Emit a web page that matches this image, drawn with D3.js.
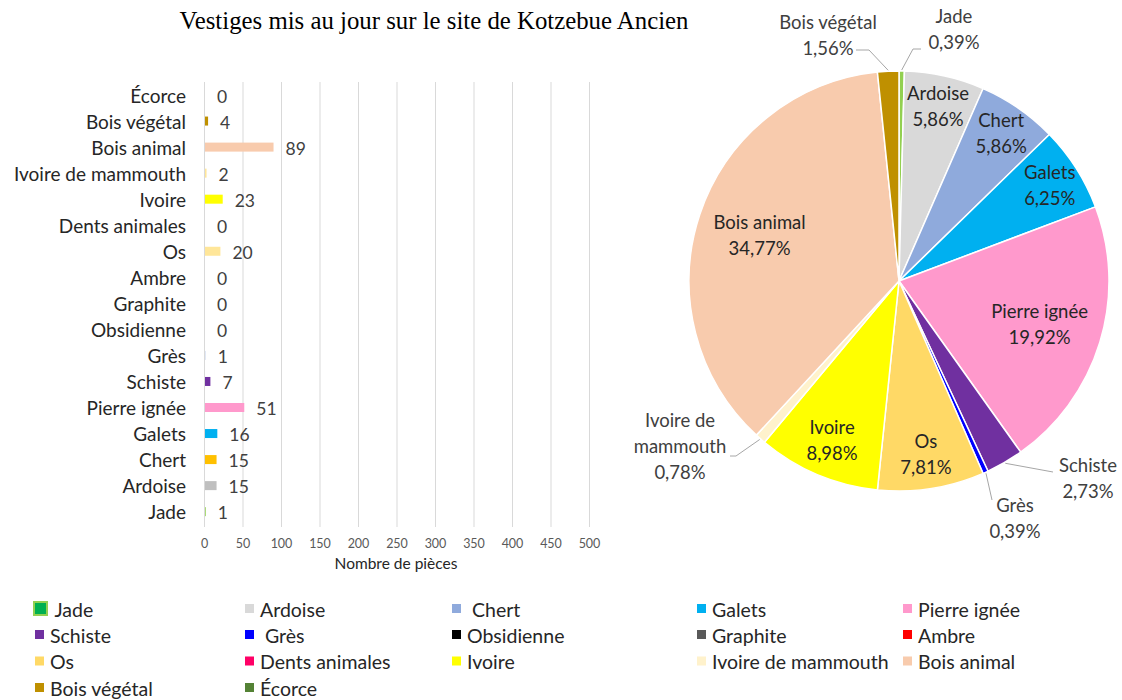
<!DOCTYPE html>
<html><head><meta charset="utf-8">
<script src="https://cdn.jsdelivr.net/npm/d3@7"></script>
<style>
html,body{margin:0;padding:0;background:#fff;}
text{white-space:pre;}
</style>
</head><body>
<svg id="chart" width="1122" height="700"></svg>
<script>
// ---------- data ----------
const categories = ["Jade","Ardoise","Chert","Galets","Pierre ignée","Schiste","Grès","Obsidienne","Graphite","Ambre","Os","Dents animales","Ivoire","Ivoire de mammouth","Bois animal","Bois végétal","Écorce"];
const counts = [1,15,15,16,51,7,1,0,0,0,20,0,23,2,89,4,0];
const piePercents = ["0,39%","5,86%","5,86%","6,25%","19,92%","2,73%","0,39%","","","","7,81%","","8,98%","0,78%","34,77%","1,56%",""];
const legendLabels = [" Jade","Ardoise"," Chert","Galets","Pierre ignée","Schiste"," Grès","Obsidienne","Graphite","Ambre","Os","Dents animales","Ivoire","Ivoire de mammouth","Bois animal","Bois végétal","Écorce"];
const pieColors = ["#92D050","#D9D9D9","#8FAADC","#00B0F0","#FF99CC","#7030A0","#0000FF","#000000","#595959","#FF0000","#FFD966","#FF0066","#FFFF00","#FFF2CC","#F8CBAD","#BF9000","#548235"];
const barColors = ["#92D050","#BFBFBF","#FFC000","#00B0F0","#FF99CC","#7030A0","#D9E1F2","#000000","#595959","#FF0000","#FFE699","#FF0066","#FFFF00","#FFE699","#F8CBAD","#BF9000","#548235"];
const xTicks = [0,50,100,150,200,250,300,350,400,450,500];
const titleText = "Vestiges mis au jour sur le site de Kotzebue Ancien";
const xAxisTitle = "Nombre de pièces";

// ---------- setup ----------
const svg = d3.select("#chart");
const SANS = "Lato, 'Open Sans', sans-serif";

svg.append("text").attr("x",434).attr("y",20).attr("text-anchor","middle")
  .attr("dominant-baseline","central")
  .style("font-family","'Liberation Serif','Times New Roman',serif").style("font-size","24.8px")
  .attr("fill","#000").text(titleText);

// ---------- bar chart ----------
const x = d3.scaleLinear().domain([0,500]).range([204,589]);
const y = d3.scaleBand().domain(categories.slice().reverse()).range([82, 82+17*26.04]).padding(0);
const barH = 9;
const gridTop = 82, gridBot = 527;

const bar = svg.append("g");
bar.append("g").selectAll("line").data(xTicks).join("line")
  .attr("x1",d=>x(d)+0.5).attr("x2",d=>x(d)+0.5).attr("y1",gridTop).attr("y2",gridBot)
  .attr("stroke","#D9D9D9").attr("stroke-width",1);

const xAxis = d3.axisBottom(x).tickValues(xTicks).tickSize(0).tickPadding(0);
const ax = bar.append("g").attr("transform",`translate(0,${gridBot+12})`).call(xAxis);
ax.select(".domain").remove();
ax.selectAll("text").style("font-family",SANS).style("font-size","12.5px").attr("fill","#595959").attr("dy","0.71em");

bar.append("text").attr("x",396).attr("y",563).attr("text-anchor","middle").attr("dominant-baseline","central")
  .style("font-family",SANS).style("font-size","15.5px").attr("fill","#262626").text(xAxisTitle);

const rows = categories.map((c,i)=>({c, v:counts[i], col:barColors[i]}));
bar.append("g").selectAll("rect").data(rows).join("rect")
  .attr("x",x(0)+1).attr("y",d=>y(d.c)+y.bandwidth()/2-barH/2)
  .attr("width",d=>Math.max(0,x(d.v)-x(0))).attr("height",barH).attr("fill",d=>d.col);

bar.append("g").selectAll("text").data(rows).join("text")
  .attr("x",186).attr("y",d=>y(d.c)+y.bandwidth()/2).attr("text-anchor","end").attr("dominant-baseline","central")
  .style("font-family",SANS).style("font-size","19px").attr("fill","#262626").text(d=>d.c);

bar.append("g").selectAll("text").data(rows).join("text")
  .attr("x",d=>x(d.v)+13).attr("y",d=>y(d.c)+y.bandwidth()/2+1).attr("dominant-baseline","central")
  .style("font-family",SANS).style("font-size","17.5px").attr("fill","#404040").text(d=>d.v);

// ---------- pie ----------
const cx = 899, cy = 281, R = 210;
const pieGen = d3.pie().sort(null).value(d=>d.v);
const arcs = pieGen(categories.map((c,i)=>({c, v:counts[i], col:pieColors[i], pct:piePercents[i]})));
const arcGen = d3.arc().innerRadius(0).outerRadius(R);
const pg = svg.append("g").attr("transform",`translate(${cx},${cy})`);
pg.selectAll("path").data(arcs.filter(a=>a.data.v>0)).join("path")
  .attr("d",arcGen).attr("fill",d=>d.data.col).attr("stroke","#fff").attr("stroke-width",1.5).attr("stroke-linejoin","round");

const mid = a => (a.startAngle+a.endAngle)/2;
const deg = a => (a.endAngle-a.startAngle)*180/Math.PI;

// inside labels
const inside = arcs.filter(a=>a.data.v>0 && deg(a)>15);
inside.forEach(a=>{
  const frac = 0.7 + 0.22*(1 - Math.min(deg(a),75)/75);
  const m = mid(a);
  const px = Math.sin(m)*R*frac, py = -Math.cos(m)*R*frac;
  const t = pg.append("text").attr("text-anchor","middle").style("font-family",SANS).style("font-size","18.5px").attr("fill","#262626");
  t.append("tspan").attr("x",px).attr("y",py-13).attr("dominant-baseline","central").text(a.data.c);
  t.append("tspan").attr("x",px).attr("y",py+13).attr("dominant-baseline","central").text(a.data.pct);
});

// outside labels (layout offsets relative to pie centre)
const outsideLayout = {
  "Jade": {tx:55, ty:-265, lines:["Jade"], pts:[[14,-232],[22,-232]]},
  "Bois végétal": {tx:-71, ty:-259, lines:["Bois végétal"], pts:[[-30,-231],[-43,-231]]},
  "Ivoire de mammouth": {tx:-219, ty:139, lines:["Ivoire de","mammouth"], pts:[[-163,175],[-169,175]]},
  "Schiste": {tx:189, ty:184, lines:["Schiste"], pts:[[154,191]]},
  "Grès": {tx:116, ty:224, lines:["Grès"], pts:[[93,219]]}
};
arcs.filter(a=>a.data.v>0 && outsideLayout[a.data.c]).forEach(a=>{
  const L = outsideLayout[a.data.c];
  const m = mid(a);
  const start = [Math.sin(m)*(R+1), -Math.cos(m)*(R+1)];
  pg.append("path").attr("d", d3.line()([start, ...L.pts])).attr("fill","none").attr("stroke","#A6A6A6").attr("stroke-width",1);
  const t = pg.append("text").attr("text-anchor","middle").style("font-family",SANS).style("font-size","18.5px").attr("fill","#404040");
  [...L.lines, a.data.pct].forEach((s,k)=>{
    t.append("tspan").attr("x",L.tx).attr("y",L.ty+k*26).attr("dominant-baseline","central").text(s);
  });
});

// ---------- legend ----------
const colX = [35,245,452,697,903];
const rowY = [609,635,661.5,688];
const lg = svg.append("g");
legendLabels.forEach((lab,i)=>{
  const cxl = colX[i%5], cyl = rowY[Math.floor(i/5)];
  if(i===0){
    lg.append("rect").attr("x",cxl-1).attr("y",cyl-7).attr("width",13).attr("height",13)
      .attr("fill","#00B050").attr("stroke","#92D050").attr("stroke-width",2);
  } else {
    lg.append("rect").attr("x",cxl).attr("y",cyl-5).attr("width",9).attr("height",9).attr("fill",pieColors[i]);
  }
  lg.append("text").attr("x",cxl+15).attr("y",cyl).attr("dominant-baseline","central")
    .style("font-family",SANS).style("font-size","19.5px").attr("fill","#262626").text(lab);
});
</script>
</body></html>
